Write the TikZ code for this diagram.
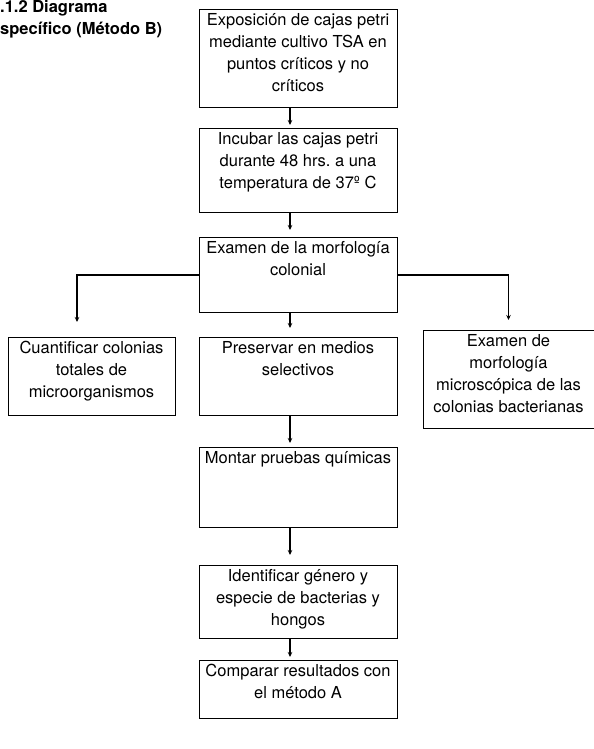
\documentclass[tikz,border=0pt]{standalone}
\usepackage{fontspec}
\setmainfont{TeX Gyre Heros}
\usetikzlibrary{arrows.meta}
\frenchspacing

% text block of a box: width, height, lines (top aligned)
\newcommand{\cajatxt}[3]{\parbox[c][#2][t]{#1}{\centering\rule{0pt}{16bp}#3}}

\tikzset{
  caja/.style={draw, line width=0.6bp, inner sep=0pt, anchor=north},
  flecha/.style={line width=1.5bp, -{Stealth[length=5bp, width=4.5bp]}},
  titulo/.style={anchor=base west, inner sep=0pt, font=\fontsize{16.5bp}{22bp}\selectfont\bfseries},
}

\begin{document}
\begin{tikzpicture}[x=1bp, y=-1bp, font=\fontsize{16.5bp}{22bp}\selectfont]
    \useasboundingbox (0,0) rectangle (594,749);
    % Title
    \node[titulo] (titulo1) at (0,13) {.1.2 Diagrama};
    \node[titulo] (titulo2) at (0,35) {specífico (Método B)};
    % Main column
    \node[caja] (expo) at (298,9) {\cajatxt{198bp}{98bp}{Exposición de cajas petri\\mediante cultivo TSA en\\puntos críticos y no\\críticos}};
    \node[caja] (incub) at (298,128) {\cajatxt{198bp}{84bp}{Incubar las cajas petri\\durante 48 hrs. a una\\temperatura de 37º C}};
    \node[caja] (exam) at (298,237) {\cajatxt{198bp}{75bp}{Examen de la morfología\\colonial}};
    \node[caja] (preserv) at (298,337) {\cajatxt{198bp}{78bp}{Preservar en medios\\selectivos}};
    \node[caja] (montar) at (298,447) {\cajatxt{198bp}{80bp}{Montar pruebas químicas}};
    \node[caja] (ident) at (298,565) {\cajatxt{198bp}{73bp}{Identificar género y\\especie de bacterias y\\hongos}};
    \node[caja] (compar) at (298,660) {\cajatxt{198bp}{58bp}{Comparar resultados con\\el método A}};
    % Side boxes
    \node[caja] (cuant) at (91.5,337) {\cajatxt{167bp}{78bp}{Cuantificar colonias\\totales de\\microorganismos}};
    \node[caja] (micro) at (508.5,330) {\cajatxt{171bp}{98bp}{Examen de\\morfología\\microscópica de las\\colonias bacterianas}};
    % Arrows
    \draw[flecha, shorten >=3bp] ([xshift=-8bp]expo.south) -- ([xshift=-8bp]incub.north);
    \draw[flecha, shorten >=7bp] ([xshift=-8bp]incub.south) -- ([xshift=-8bp]exam.north);
    \draw[flecha, shorten >=9bp] ([xshift=-8bp]exam.south) -- ([xshift=-8bp]preserv.north);
    \draw[flecha, shorten >=4bp] ([xshift=-8bp]preserv.south) -- ([xshift=-8bp]montar.north);
    \draw[flecha, shorten >=10bp] ([xshift=-8bp]montar.south) -- ([xshift=-8bp]ident.north);
    \draw[flecha, shorten >=3bp] ([xshift=-8bp]ident.south) -- ([xshift=-8bp]compar.north);
    % Branches
    \draw[flecha, shorten >=15bp] (exam.west) -| ([xshift=-14.5bp]cuant.north);
    \draw[flecha, shorten >=10bp] (exam.east) -| (micro.north);
\end{tikzpicture}
\end{document}
